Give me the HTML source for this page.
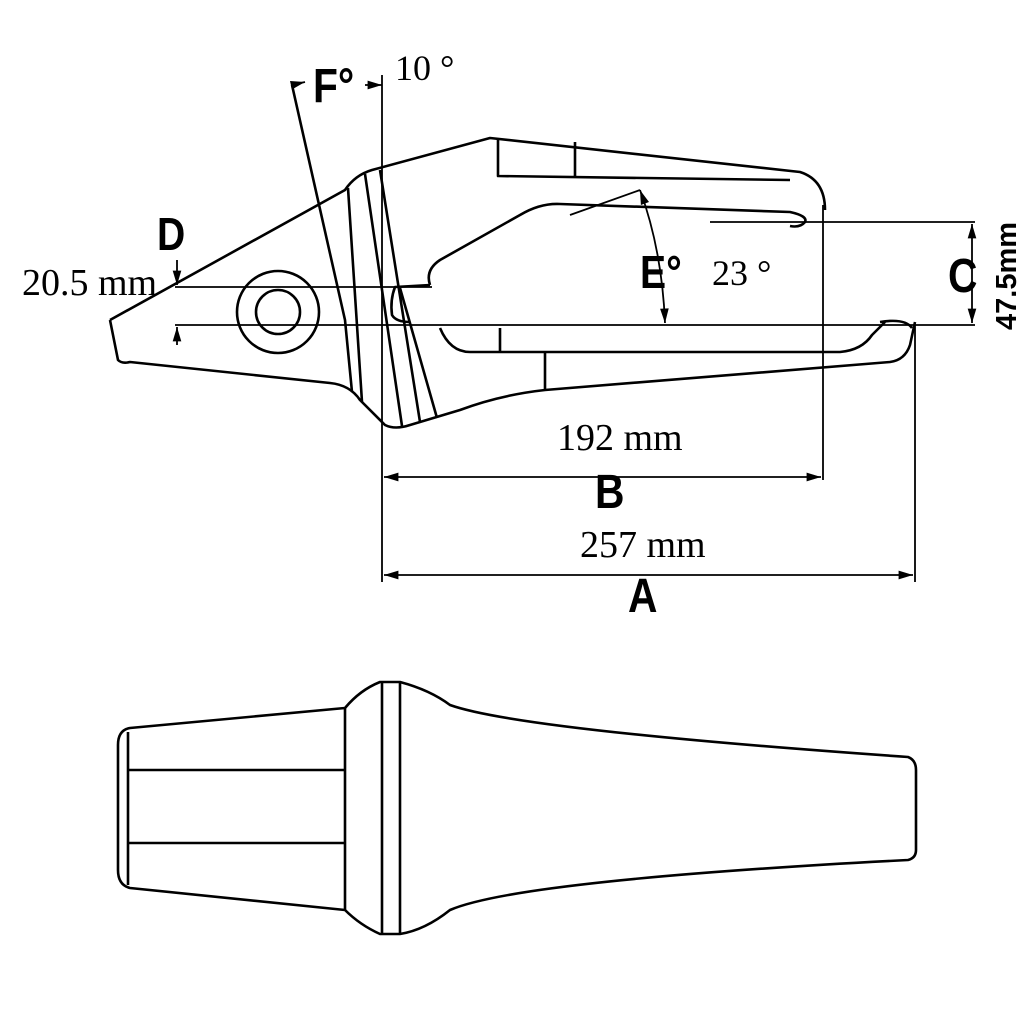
<!DOCTYPE html>
<html><head><style>
html,body{margin:0;padding:0;background:#fff;}
svg{display:block;}
.b{font-family:"Liberation Sans",sans-serif;font-weight:bold;}
.s{font-family:"Liberation Serif",serif;}
</style></head><body>
<svg width="1024" height="1024" viewBox="0 0 1024 1024" xmlns="http://www.w3.org/2000/svg">
<defs>
<marker id="ar" viewBox="0 0 10 10" refX="10" refY="5" markerWidth="10" markerHeight="8" orient="auto-start-reverse"><path d="M0,2 L10,5 L0,8 Z" fill="#000"/></marker>
</defs>
<g fill="none" stroke="#000" stroke-width="2.6" stroke-linejoin="round">
<path d="M110,320 L345,190 Q355,175 372,170 L490,138 L800,172 Q825,180 825,210"/>
<path d="M110,320 L118,360 Q122,364 130,362 L330,383 Q350,385 360,400 L385,425 Q395,430 410,425 L460,410 Q500,395 545,390 L890,362 Q905,360 910,345 L915,322"/>
<path d="M430,285 Q425,270 440,260 L520,215 Q540,203 560,204 L790,212 Q808,216 805,222 Q800,228 790,226"/>
<path d="M430,285 L395,287 Q390,300 392,315 Q396,322 410,322"/>
<path d="M440,328 Q450,352 470,352 L840,352 Q862,350 872,335 L885,322"/>
<path d="M500,328 L500,352 M545,352 L545,390"/>
<path d="M880,322 Q905,318 912,328"/>
<path d="M498,140 L498,176 L790,180 M575,142 L575,176"/>
<path d="M348,188 L362,402 M365,174 L402,426 M380,170 L420,422 M400,288 L437,418"/>
<path d="M292,85 L345,320 L352,392"/>
<circle cx="278" cy="312" r="41"/>
<circle cx="278" cy="312" r="22"/>
<path d="M382,75 L382,582" stroke-width="1.8"/>
<path d="M823,205 L823,480" stroke-width="1.8"/>
<path d="M915,325 L915,582" stroke-width="1.8"/>
<path d="M175,325 L975,325" stroke-width="1.8"/>
<path d="M175,287 L432,287" stroke-width="1.8"/>
<path d="M710,222 L975,222" stroke-width="1.8"/>
<path d="M640,190 L570,215" stroke-width="1.8"/>
<path d="M292,85 L305,82" stroke-width="1.8" marker-end="url(#ar)"/>
<path d="M365,85 L382,85" stroke-width="1.8" marker-end="url(#ar)"/>
<path d="M384,477 L821,477" stroke-width="1.8" marker-start="url(#ar)" marker-end="url(#ar)"/>
<path d="M384,575 L913,575" stroke-width="1.8" marker-start="url(#ar)" marker-end="url(#ar)"/>
<path d="M972,224 L972,323" stroke-width="1.8" marker-start="url(#ar)" marker-end="url(#ar)"/>
<path d="M177,260 L177,285" stroke-width="1.8" marker-end="url(#ar)"/>
<path d="M177,345 L177,327" stroke-width="1.8" marker-end="url(#ar)"/>
<path d="M640,190 Q662,250 665,323" stroke-width="1.8" marker-start="url(#ar)" marker-end="url(#ar)"/>
<path d="M130,728 L345,708 Q360,690 380,682 L400,682 Q430,690 450,705 Q520,730 908,757 Q916,760 916,770 L916,850 Q916,858 908,860 Q520,880 450,910 Q425,930 400,934 L380,934 Q360,925 345,910 L130,888 Q118,885 118,870 L118,745 Q118,730 130,728 Z"/>
<path d="M128,770 L345,770 M128,843 L345,843 M128,732 L128,885 M345,708 L345,910 M382,682 L382,934 M400,682 L400,934"/>
</g>
<g fill="#000">
<text x="313" y="102" class="b" font-size="48" transform="scale(0.85,1)" style="transform-origin:313px 102px">F°</text>
<text x="395" y="80" class="s" font-size="36">10 °</text>
<text x="157" y="250" class="b" font-size="46" transform="scale(0.85,1)" style="transform-origin:157px 250px">D</text>
<text x="22" y="295" class="s" font-size="38">20.5 mm</text>
<text x="640" y="288" class="b" font-size="46" transform="scale(0.85,1)" style="transform-origin:640px 288px">E°</text>
<text x="712" y="285" class="s" font-size="36">23 °</text>
<text x="948" y="292" class="b" font-size="48" transform="scale(0.85,1)" style="transform-origin:948px 292px">C</text>
<text x="1016" y="330" class="b" font-size="29" transform="rotate(-90 1016 330)">47.5mm</text>
<text x="557" y="450" class="s" font-size="38">192 mm</text>
<text x="595" y="508" class="b" font-size="48" transform="scale(0.85,1)" style="transform-origin:595px 508px">B</text>
<text x="580" y="557" class="s" font-size="38">257 mm</text>
<text x="628" y="612" class="b" font-size="48" transform="scale(0.85,1)" style="transform-origin:628px 612px">A</text>
</g>
</svg>
</body></html>
